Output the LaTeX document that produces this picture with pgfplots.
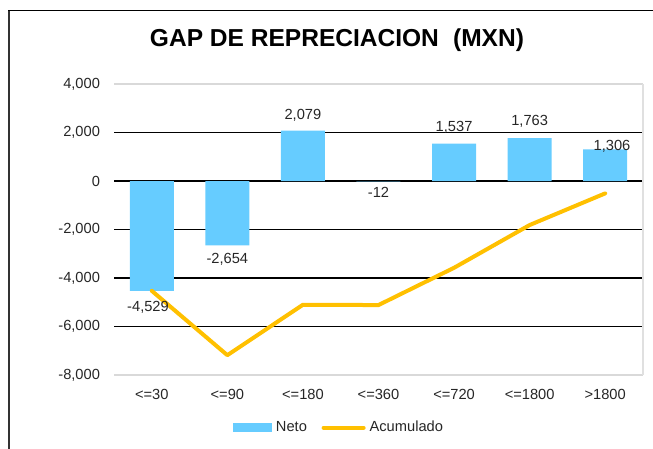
\documentclass[border=0pt]{standalone}
\usepackage{fontspec}
\setmainfont{Liberation Sans}
\usepackage{pgfplots}
\pgfplotsset{compat=1.18}
\usepackage{pgfplotstable}
\definecolor{neto}{HTML}{66CCFF}
\definecolor{acum}{HTML}{FFC000}
\definecolor{txt}{HTML}{262626}

\pgfplotstableread{
x neto acum
0 -4529 -4529
1 -2654 -7183
2 2079 -5104
3 -12 -5116
4 1537 -3579
5 1763 -1816
6 1306 -510
}\datatable

\pgfplotstableread{
x y label
-0.05 -5209 -4,529
1 -3217 -2,654
2 2722 2,079
3 -454 -12
4 2227 1,537
5 2446 1,763
6.09 1415 1,306
}\labeltable

\begin{document}
\begin{tikzpicture}
\begin{axis}[
  at={(85.5pt,55.5pt)}, anchor=south west,
  scale only axis, width=396.75pt, height=218.25pt,
  xmin=-0.5, xmax=6.5, ymin=-8000, ymax=4000,
  axis line style={draw=none},
  major tick length=0pt,
  xtick={0,...,6},
  xticklabels={{<=30},{<=90},{<=180},{<=360},{<=720},{<=1800},{>1800}},
  ytick={-6000,-4000,-2000,0,2000},
  extra y ticks={-8000,4000},
  extra y tick style={major grid style={draw=black!15, line width=1.2pt}},
  ymajorgrids,
  major grid style={draw=black, line width=0.9pt},
  /pgf/number format/assume math mode=true,
  /pgf/number format/1000 sep={,},
  tick label style={font=\fontsize{11}{13}\selectfont, text=txt},
  yticklabel style={xshift=-7pt},
  xticklabel style={yshift=-7pt},
  legend style={at={(0.427,-0.181)}, anchor=center, draw=none, fill=none,
    legend columns=2, font=\fontsize{11}{13}\selectfont, text=txt,
    nodes={inner xsep=3pt},
    /tikz/every even column/.append style={column sep=8pt},
    inner sep=0pt, row sep=0pt},
  clip=false,
]
\addplot[ybar, bar width=33pt, fill=neto, draw=none, forget plot] table[x=x, y=neto] {\datatable};
\addplot[acum, line width=3pt, line join=round, line cap=round, mark=none, forget plot] table[x=x, y=acum] {\datatable};
\addplot[draw=none, mark=none, forget plot,
  nodes near coords, point meta=explicit symbolic,
  every node near coord/.append style={anchor=center, font=\fontsize{11}{13}\selectfont, text=txt}]
  table[x=x, y=y, meta=label] {\labeltable};
\draw[black!12, line width=0.8pt] (rel axis cs:1,0) -- (rel axis cs:1,1);
\addlegendimage{legend image code/.code={\fill[neto] (0pt,-3pt) rectangle (29pt,3pt);}}
\addlegendentry{Neto}
\addlegendimage{legend image code/.code={\draw[acum, line width=3pt, line cap=round] (1pt,0pt) -- (31pt,0pt);}}
\addlegendentry{Acumulado}
\end{axis}
\node[font=\fontsize{18.4}{22}\selectfont\bfseries, text=black] at (252.75pt,306.4pt) {GAP DE REPRECIACION\hspace{0.3em} (MXN)};
\draw[black!80, line width=1.1pt] (6.75pt,0pt) -- (6.75pt,328.9pt);
\draw[black, line width=0.9pt] (6.2pt,328.9pt) -- (489.75pt,328.9pt);
\pgfresetboundingbox
\path[use as bounding box] (0pt,0pt) rectangle (489.75pt,336.75pt);
\end{tikzpicture}
\end{document}
